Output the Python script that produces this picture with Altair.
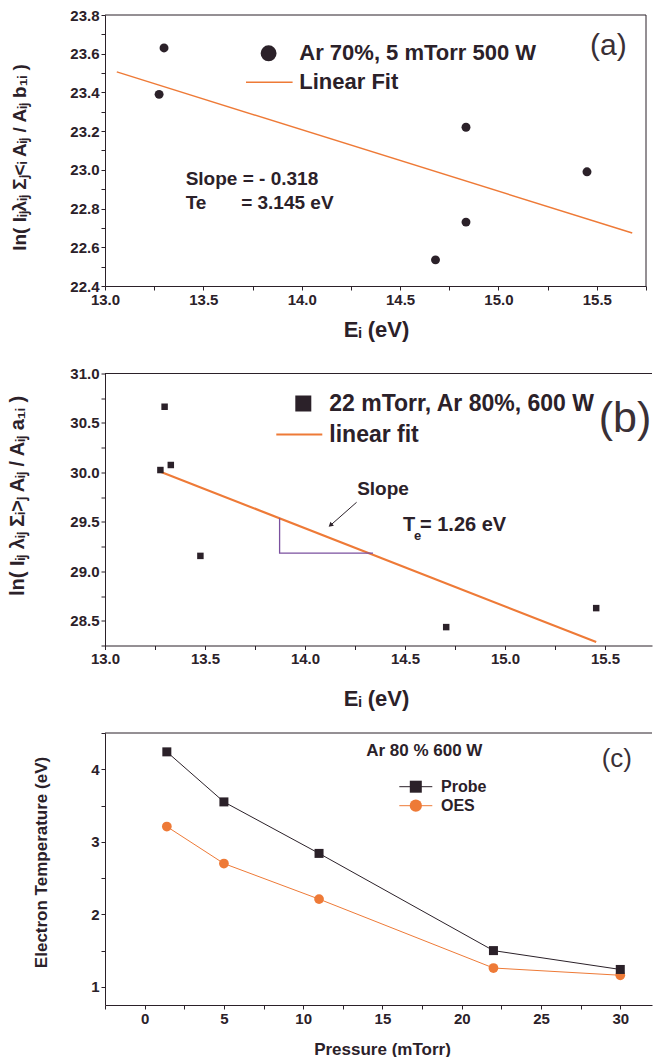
import altair as alt
import pandas as pd

# ---------------------------------------------------------------- data
# (a) Boltzmann plot: Ar 70%, 5 mTorr, 500 W
a_energy = [13.275, 13.30, 14.835, 14.835, 14.68, 15.45]
a_lnval = [23.39, 23.63, 23.22, 22.73, 22.535, 22.99]
a_fit_energy = [13.06, 15.68]
a_fit_lnval = [23.506, 22.674]
a_note_x = [13.41, 13.41, 13.692]
a_note_y = [22.954, 22.83, 22.83]
a_note_text = ["Slope = - 0.318", "Te", "= 3.145 eV"]
a_xticks = [13.0, 13.25, 13.5, 13.75, 14.0, 14.25, 14.5, 14.75, 15.0, 15.25, 15.5, 15.75]
a_yticks = [22.4, 22.5, 22.6, 22.7, 22.8, 22.9, 23.0, 23.1, 23.2, 23.3, 23.4, 23.5,
            23.6, 23.7, 23.8]

# (b) Boltzmann plot: 22 mTorr, Ar 80%, 600 W
b_energy = [13.277, 13.298, 13.329, 13.477, 14.706, 15.456]
b_lnval = [30.024, 30.664, 30.075, 29.156, 28.436, 28.628]
b_fit_energy = [13.277, 15.456]
b_fit_lnval = [30.007, 28.285]
b_tri_x = [13.873, 13.873, 14.34]
b_tri_y = [29.536, 29.183, 29.183]
b_arrow_x = [14.258, 14.13]
b_arrow_y = [29.698, 29.47]
b_xticks = [13.0, 13.25, 13.5, 13.75, 14.0, 14.25, 14.5, 14.75, 15.0, 15.25, 15.5]
b_yticks = [28.25, 28.5, 28.75, 29.0, 29.25, 29.5, 29.75, 30.0, 30.25, 30.5, 30.75, 31.0]

# (c) electron temperature vs pressure, Ar 80 %, 600 W
pressure = [1.4, 5, 11, 22, 30]
te_probe = [4.24, 3.55, 2.84, 1.50, 1.24]
te_oes = [3.21, 2.70, 2.21, 1.26, 1.16]
c_xticks = [-2.5, 0, 2.5, 5, 7.5, 10, 12.5, 15, 17.5, 20, 22.5, 25, 27.5, 30]
c_yticks = [1.0, 1.5, 2.0, 2.5, 3.0, 3.5, 4.0, 4.5]

# --------------------------------------------------------------- style
DARK = "#2b2129"
ORANGE = "#ee7a37"
PURPLE = "#7b509f"
FONT = "Liberation Sans"

one = pd.DataFrame({"k": [0]})


def lab(step, fmt):
    return (f"abs(round(datum.value / {step}) * {step} - datum.value) < 1e-6"
            f" ? format(datum.value, '{fmt}') : ''")


def make_axis(values, step, fmt, title, **kw):
    return alt.Axis(values=values, labelExpr=lab(step, fmt), title=title, grid=False,
                    tickSize=4, tickColor=DARK, tickWidth=1, domainColor=DARK,
                    domainWidth=1, labelColor=DARK, labelFont=FONT,
                    labelFontWeight="bold", labelFontSize=15, labelPadding=2,
                    labelFlush=False, labelOverlap=False, titleFont=FONT,
                    titleFontWeight="bold", titleColor=DARK, titleBaseline="middle",
                    **kw)


def label(text, x, y, size, weight="bold", align="left", color=DARK):
    return alt.Chart(one).mark_text(
        text=text, fontSize=size, font=FONT, fontWeight=weight, align=align,
        baseline="middle", color=color).encode(x=alt.value(x), y=alt.value(y))


def hline(x1, x2, y, color=DARK, width=1.0):
    return alt.Chart(one).mark_rule(color=color, strokeWidth=width).encode(
        x=alt.value(x1), x2=alt.value(x2), y=alt.value(y))


def vline(x, y1, y2, color=DARK, width=1.0):
    return alt.Chart(one).mark_rule(color=color, strokeWidth=width).encode(
        x=alt.value(x), y=alt.value(y1), y2=alt.value(y2))


def key(shape, x, y, size, color=DARK):
    return alt.Chart(one).mark_point(shape=shape, filled=True, size=size, color=color,
                                     opacity=1).encode(x=alt.value(x), y=alt.value(y))


# ------------------------------------------------------------ panel (a)
Wa, Ha = 541, 271
xa = alt.X("x:Q", scale=alt.Scale(domain=[13.0, 15.75], nice=False, zero=False),
           axis=make_axis(a_xticks, 0.5, ".1f", "Eᵢ (eV)", titleFontSize=22,
                          titleX=271, titleY=43))
ya = alt.Y("y:Q", scale=alt.Scale(domain=[22.4, 23.8], nice=False, zero=False),
           axis=make_axis(a_yticks, 0.2, ".1f", "ln( Iᵢⱼλᵢⱼ Σⱼ˂ᵢ Aᵢⱼ / Aᵢⱼ b₁ᵢ )",
                          titleFontSize=19, titleX=-86, titleY=142, titleAngle=270))

fit_a = alt.Chart(pd.DataFrame({"x": a_fit_energy, "y": a_fit_lnval})).mark_line(
    color=ORANGE, strokeWidth=1.4).encode(x=xa, y=ya)
pts_a = alt.Chart(pd.DataFrame({"x": a_energy, "y": a_lnval})).mark_circle(
    size=80, color=DARK, opacity=1).encode(x=xa, y=ya)
notes_a = alt.Chart(pd.DataFrame({"x": a_note_x, "y": a_note_y, "t": a_note_text})).mark_text(
    fontSize=19, font=FONT, fontWeight="bold", align="left", baseline="middle",
    color=DARK).encode(x=xa, y=ya, text="t:N")

panel_a = alt.layer(
    hline(0, Wa, 0), vline(Wa, 0, Ha),
    fit_a, pts_a, notes_a,
    key("circle", 163.6, 38.3, 254),
    label("Ar 70%, 5 mTorr 500 W", 194.3, 38.3, 22),
    hline(141, 187.6, 67.3, ORANGE, 1.4),
    label("Linear Fit", 194.3, 67.3, 22),
    label("(a)", 503.3, 30.7, 30, weight="normal", align="center", color="#3a3036"),
).properties(width=Wa, height=Ha)

# ------------------------------------------------------------ panel (b)
Wb, Hb = 547, 272
xb = alt.X("x:Q", scale=alt.Scale(domain=[13.0, 15.735], nice=False, zero=False),
           axis=make_axis(b_xticks, 0.5, ".1f", "Eᵢ (eV)", titleFontSize=22,
                          titleX=271, titleY=53))
yb = alt.Y("y:Q", scale=alt.Scale(domain=[28.25, 31.0], nice=False, zero=False),
           axis=make_axis(b_yticks, 0.5, ".1f", "ln( Iᵢⱼ λᵢⱼ Σᵢ˃ⱼ Aᵢⱼ / Aᵢⱼ a₁ᵢ )",
                          titleFontSize=20, titleX=-88, titleY=122, titleAngle=270))

fit_b = alt.Chart(pd.DataFrame({"x": b_fit_energy, "y": b_fit_lnval})).mark_line(
    color=ORANGE, strokeWidth=2.2).encode(x=xb, y=yb)
pts_b = alt.Chart(pd.DataFrame({"x": b_energy, "y": b_lnval})).mark_square(
    size=42, color=DARK, opacity=1).encode(x=xb, y=yb)
tri_b = alt.Chart(pd.DataFrame({"x": b_tri_x, "y": b_tri_y, "o": [0, 1, 2]})).mark_line(
    color=PURPLE, strokeWidth=1.3).encode(x=xb, y=yb, order="o:Q")
arrow_df = pd.DataFrame({"x": b_arrow_x, "y": b_arrow_y})
shaft_b = alt.Chart(arrow_df).mark_line(color=DARK, strokeWidth=1).encode(x=xb, y=yb)
head_b = alt.Chart(arrow_df.iloc[[1]]).mark_point(
    shape="triangle", filled=True, size=28, angle=229, color=DARK, opacity=1).encode(x=xb, y=yb)


def note_b(text, x, y, size, dx=0, dy=0, align="left"):
    return alt.Chart(pd.DataFrame({"x": [x], "y": [y]})).mark_text(
        text=text, fontSize=size, font=FONT, fontWeight="bold", align=align,
        baseline="middle", dx=dx, dy=dy, color=DARK).encode(x=xb, y=yb)


panel_b = alt.layer(
    hline(0, Wb, 0),
    fit_b, tri_b, shaft_b, head_b, pts_b,
    note_b("Slope", 14.39, 29.832, 19, align="center"),
    note_b("T", 14.49, 29.47, 20),
    note_b("e", 14.49, 29.47, 13, dx=11, dy=11),
    note_b("= 1.26 eV", 14.575, 29.47, 20),
    key("square", 198.3, 30, 256),
    label("22 mTorr, Ar 80%, 600 W", 224.3, 30, 23),
    hline(171.3, 217.3, 61, ORANGE, 2.2),
    label("linear fit", 224.3, 61, 23),
    label("(b)", 520, 45, 43, weight="normal", align="center", color="#3a3036"),
).properties(width=Wb, height=Hb)

# ------------------------------------------------------------ panel (c)
Wc, Hc = 547, 272
xc = alt.X("x:Q", scale=alt.Scale(domain=[-2.5, 32.0], nice=False, zero=False),
           axis=make_axis(c_xticks, 5, "d", "Pressure (mTorr)", titleFontSize=17,
                          titleX=277, titleY=44))
yc = alt.Y("y:Q", scale=alt.Scale(domain=[0.75, 4.5], nice=False, zero=False),
           axis=make_axis(c_yticks, 1, "d", "Electron Temperature (eV)",
                          titleFontSize=17, titleX=-64, titleY=129, titleAngle=270))

probe_df = pd.DataFrame({"x": pressure, "y": te_probe})
oes_df = pd.DataFrame({"x": pressure, "y": te_oes})
probe_line = alt.Chart(probe_df).mark_line(color=DARK, strokeWidth=1).encode(x=xc, y=yc)
probe_pts = alt.Chart(probe_df).mark_square(size=81, color=DARK, opacity=1).encode(x=xc, y=yc)
oes_line = alt.Chart(oes_df).mark_line(color=ORANGE, strokeWidth=1).encode(x=xc, y=yc)
oes_pts = alt.Chart(oes_df).mark_circle(size=95, color=ORANGE, opacity=1).encode(x=xc, y=yc)

panel_c = alt.layer(
    hline(0, Wc, 0),
    oes_line, probe_line, oes_pts, probe_pts,
    label("Ar 80 % 600 W", 319.3, 17.7, 17, align="center"),
    label("(c)", 511.8, 26, 26, weight="normal", align="center", color="#3a3036"),
    hline(294.3, 327.3, 53.7, DARK, 1),
    key("square", 310.8, 53.7, 144),
    label("Probe", 336, 53.7, 16),
    hline(294.3, 327.3, 72.7, ORANGE, 1),
    key("circle", 310.8, 72.7, 150, ORANGE),
    label("OES", 336, 72.7, 16),
).properties(width=Wc, height=Hc)

# --------------------------------------------------------------- layout
chart = alt.vconcat(panel_a, panel_b, panel_c, spacing=87.5, bounds="flush").properties(
    padding={"left": 7, "top": 8, "right": 0, "bottom": 0},
    background="white",
).configure_view(strokeWidth=0)

chart.save("out.html", embed_options={"renderer": "svg", "actions": False})
